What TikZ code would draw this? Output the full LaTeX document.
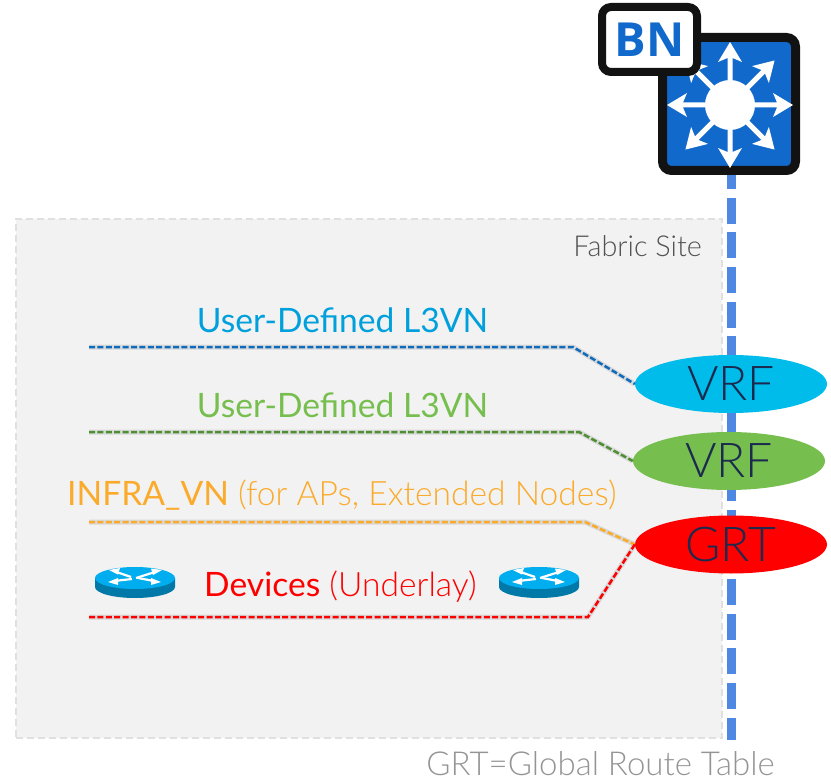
\documentclass[tikz,border=0pt]{standalone}
\usepackage{fontspec}
\setmainfont{Lato}[UprightFont=* Light,BoldFont=*]
\newfontfamily\regfont{Lato}
\newfontfamily\bnfont{Open Sans}[UprightFont=* Bold]
\usetikzlibrary{shapes.geometric}
\definecolor{swblue}{HTML}{1169CB}
\definecolor{trunkblue}{HTML}{4F88E3}
\definecolor{lineblue}{HTML}{0F6CBD}
\definecolor{textblue}{HTML}{00A0DC}
\definecolor{vrfblue}{HTML}{00BCEB}
\definecolor{vrfgreen}{HTML}{76BE4E}
\definecolor{linegreen}{HTML}{4E8F32}
\definecolor{orangec}{HTML}{FBAB2C}
\definecolor{navyc}{HTML}{1B2A4E}
\definecolor{rtop}{HTML}{00AEEF}
\definecolor{rside}{HTML}{0078A8}
\tikzset{
  vn/.style={ellipse,minimum width=192pt,minimum height=58pt,inner sep=0pt,text=navyc,font=\fontsize{48}{48}\selectfont},
  lbl/.style={inner sep=0pt,font=\fontsize{33.6}{38}\selectfont},
  conn/.style={line width=2.5pt,dash pattern=on 6pt off 2.4pt},
  shad/.style={line width=5pt,draw=black,opacity=.1,shift={(0pt,-4pt)}},
  arm/.style={fill=white,draw=none}
}
\newcommand{\routerpic}[2]{%
  \begin{scope}[shift={(#1,#2)}]
    \fill[rside] (-40,0) -- (-40,9) arc[start angle=180,end angle=0,x radius=40,y radius=11] -- (40,0) -- cycle;
    \fill[rtop] (0,0) ellipse[x radius=40,y radius=11];
    \begin{scope}[white,line width=2.2pt]
      \draw (-4,-1) -- (-20,-6.5);
      \fill (-26,-8) -- (-15,-10) -- (-17,-3.5) -- cycle;
      \draw (1,0) -- (20,-6);
      \fill (27,-8) -- (16,-9.5) -- (18,-3) -- cycle;
      \draw (-3,1) -- (-21,3);
      \fill (-27,4) -- (-17,0) -- (-17,7) -- cycle;
      \draw (3,0) -- (19,3);
      \fill (26,4) -- (16,0) -- (16,7) -- cycle;
    \end{scope}
  \end{scope}}
\begin{document}
\begin{tikzpicture}[x=1pt,y=-1pt]
\useasboundingbox (0,0) rectangle (831,781);
% switch
\node[draw=black!93,line width=9pt,fill=swblue,rounded corners=9pt,minimum width=133pt,minimum height=133pt,inner sep=0pt] (sw) at (729,104) {};
\foreach \a in {0,45,...,315}{
  \begin{scope}[shift={(730,105)},rotate=\a]
    \fill[arm] (20,-2.5) -- (47,-2.5) -- (43,-12) -- (63,0) -- (43,12) -- (47,2.5) -- (20,2.5) -- cycle;
  \end{scope}}
\fill[white] (730,105) circle[radius=25];
\node[draw=black!93,line width=8pt,fill=white,rounded corners=9pt,minimum width=95pt,minimum height=65pt,inner sep=0pt,text=swblue,font=\bnfont\fontsize{47}{47}\selectfont] (bn) at (649.5,39.5) {BN};
% site
\node[draw=black!12,fill=black!5,dash pattern=on 7pt off 4pt,line width=1.5pt,minimum width=706pt,minimum height=519pt,inner sep=0pt] (site) at (369,478.5) {};
\coordinate (trunkend) at (731,740);
\draw[trunkblue,line width=9pt,dash pattern=on 26pt off 8.67pt,dash phase=12pt] (sw.south -| trunkend) -- (trunkend);
% VN nodes
\node[vn,fill=vrfblue] (vrfa) at (731,384) {\raisebox{-3pt}{VRF}};
\node[vn,fill=vrfgreen] (vrfb) at (729,461) {\raisebox{-2pt}{VRF}};
\node[vn,fill=red] (grt) at (731,544.5) {\raisebox{-3pt}{GRT}};
% connectors
\coordinate (a0) at (89,347); \coordinate (a1) at (573,347);
\coordinate (b0) at (89,432); \coordinate (b1) at (579,432);
\coordinate (c0) at (89,522); \coordinate (c1) at (585,522);
\coordinate (d0) at (89,617); \coordinate (d1) at (588,617);
\foreach \p/\q/\r in {a0/a1/vrfa,b0/b1/vrfb,c0/c1/grt,d0/d1/grt}{
  \draw[shad] (\p) -- (\q) -- (\r.west);
}
\draw[conn,lineblue] (a0) -- (a1) -- (vrfa.west);
\draw[conn,linegreen] (b0) -- (b1) -- (vrfb.west);
\draw[conn,orangec] (c0) -- (c1) -- (grt.west);
\draw[conn,red] (d0) -- (d1) -- (grt.west);
% labels
\node[lbl,text=black!68,font=\fontsize{28.8}{32}\selectfont,anchor=east] (site-l) at (702,246) {Fabric Site};
\node[lbl,text=textblue,font=\regfont\fontsize{33.6}{38}\selectfont] (la) at (342.5,320) {User-Defined L3VN};
\node[lbl,text=vrfgreen,font=\regfont\fontsize{33.6}{38}\selectfont] (lb) at (342.5,405) {User-Defined L3VN};
\node[lbl,text=orangec,anchor=west] (lc) at (67,495) {{\regfont INFRA\_VN} (for APs, Extended Nodes)};
\node[lbl,text=red,anchor=west] (ld) at (204,587) {{\regfont Devices} (Underlay)};
\node[lbl,text=black!42,anchor=east,font=\fontsize{33}{36}\selectfont] (grtl) at (775,763.5) {GRT=Global Route Table};
\routerpic{135}{578}
\routerpic{539}{578}
\end{tikzpicture}
\end{document}
